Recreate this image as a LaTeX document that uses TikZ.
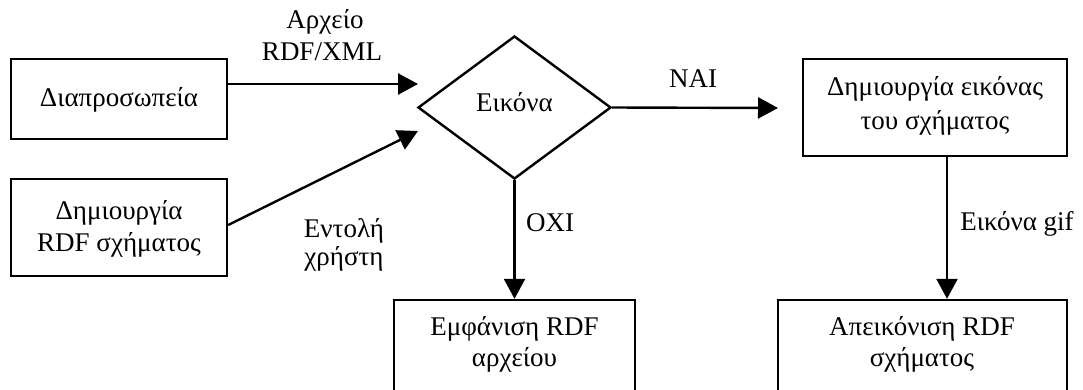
\documentclass[tikz,border=0pt]{standalone}
\usepackage{fontspec}
\setmainfont{Liberation Serif}
\usetikzlibrary{arrows.meta,shapes.geometric}

\tikzset{
  box/.style={draw, line width=2.4pt, rectangle, inner sep=0pt},
  decision/.style={draw, line width=2.4pt, diamond, inner sep=0pt,
    minimum width=193pt, minimum height=143pt},
  txt/.style={anchor=base, inner sep=0pt, font=\fontsize{27}{32}\selectfont},
  link/.style={line width=2.4pt},
  arr/.style={link, -{Triangle[length=20pt,width=21pt]}},
}

\begin{document}
\begin{tikzpicture}[x=1pt,y=-1pt]
  \useasboundingbox (0,0) rectangle (1083,389);
  \clip (0,0) rectangle (1083,389);

  % process boxes
  \node[box, minimum width=216pt, minimum height=80pt] (b1) at (119,99) {};
  \node[box, minimum width=216pt, minimum height=97pt] (b2) at (119,227.5) {};
  \node[box, minimum width=264pt, minimum height=97pt] (b3) at (935,107.5) {};
  \node[box, minimum width=289pt, minimum height=97pt] (b4) at (922.5,348.5) {};
  \node[box, minimum width=241pt, minimum height=97pt] (b5) at (514.5,348.5) {};

  % decision
  \node[decision] (d) at (514.5,107.5) {};

  % free arrow ends
  \coordinate (t1) at (418,84);
  \coordinate (t2) at (418,131);
  \coordinate (t3) at (778,108);

  % connectors
  \draw[arr] ([yshift=15pt]b1.east) -- (t1);
  \draw[arr] ([yshift=2.5pt]b2.east) -- (t2);
  \draw[arr] (d.east) -- (t3);
  \draw[arr] (d.south) -- (b5.north);
  \draw[arr] ([xshift=12pt]b3.south) -- ([xshift=24.5pt]b4.north);

  % box texts
  \node[txt] (l1) at (119,106) {Διαπροσωπεία};
  \node[txt] (l2a) at (119,219) {Δημιουργία};
  \node[txt] (l2b) at (119,251) {RDF σχήματος};
  \node[txt] (l3a) at (935,95) {Δημιουργία εικόνας};
  \node[txt] (l3b) at (935,129) {του σχήματος};
  \node[txt] (l4a) at (922,335) {Απεικόνιση RDF};
  \node[txt] (l4b) at (922,366) {σχήματος};
  \node[txt] (l5a) at (514.5,335) {Εμφάνιση RDF};
  \node[txt] (l5b) at (514.5,366) {αρχείου};
  \node[txt] (ld) at (514.5,111) {Εικόνα};

  % connector labels
  \node[txt] (la) at (325,28) {Αρχείο};
  \node[txt] (lb) at (322,60) {RDF/XML};
  \node[txt] (lc) at (344,237) {Εντολή};
  \node[txt] (le) at (344,265) {χρήστη};
  \node[txt] (lf) at (693,87) {NAI};
  \node[txt] (lg) at (550,231) {OXI};
  \node[txt] (lh) at (1017,230) {Εικόνα gif};
\end{tikzpicture}
\end{document}
